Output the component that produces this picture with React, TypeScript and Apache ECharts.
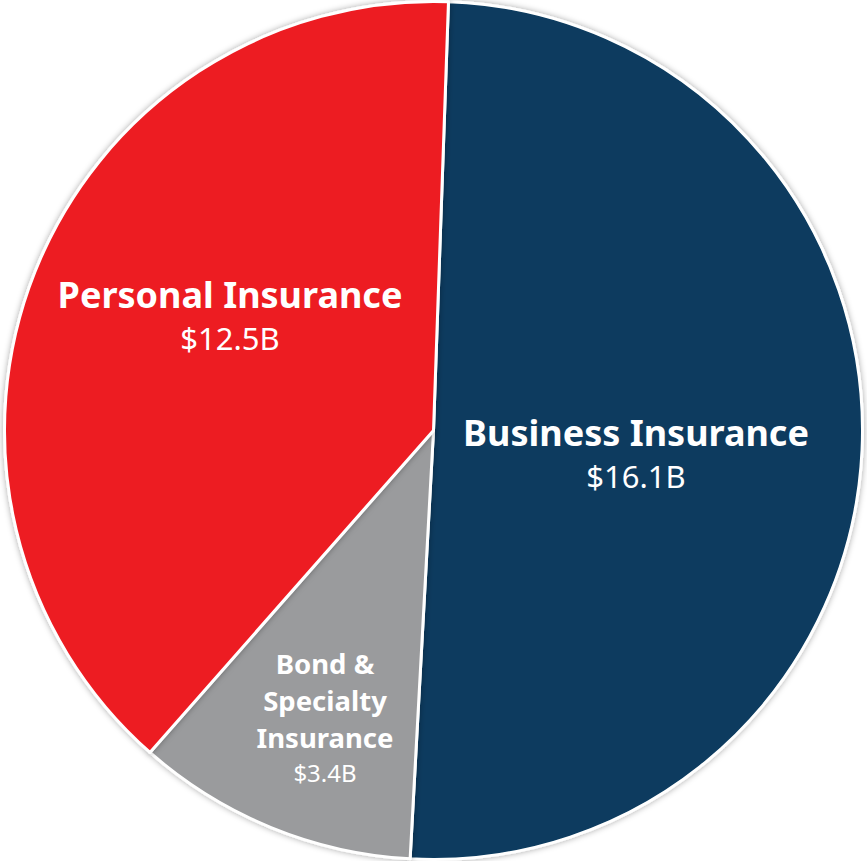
import React, { useEffect, useRef } from "react";
import * as echarts from "echarts";

const categories = ["Business Insurance", "Bond &\nSpecialty\nInsurance", "Personal Insurance"];
const values = [16.1, 3.4, 12.5];
const valueLabels = ["$16.1B", "$3.4B", "$12.5B"];

const colors = ["#083A5E", "#9A9B9D", "#ED1C24"];
// label anchor positions (layout only)
const labelPos = [
  { x: 636, y: 454 },
  { x: 325, y: 717 },
  { x: 230, y: 316 },
];

export default function App() {
  const ref = useRef<HTMLDivElement>(null);
  useEffect(() => {
    const chart = echarts.init(ref.current!, null, { renderer: "svg" });
    const font = "'Noto Sans', 'DejaVu Sans', sans-serif";
    chart.setOption({
      animation: false,
      series: [
        {
          type: "pie",
          center: ["50%", "50%"],
          radius: [0, 429],
          startAngle: 88,
          clockwise: true,
          data: categories.map((name, i) => ({
            name,
            value: values[i],
            itemStyle: {
              color: colors[i],
              borderColor: "#ffffff",
              borderWidth: 3,
              shadowBlur: 6,
              shadowColor: "rgba(0,0,0,0.35)",
            },
            label: {
              show: true,
              position: "inside",
              formatter: () =>
                i === 1
                  ? `{ns|${name}}\n{vs|${valueLabels[i]}}`
                  : `{n|${name}}\n{v|${valueLabels[i]}}`,
              rich: {
                n: { fontFamily: font, fontWeight: "bold", fontSize: 36, color: "#fff", lineHeight: 44, align: "center" },
                v: { fontFamily: font, fontSize: 31, color: "#fff", lineHeight: 44, align: "center" },
                ns: { fontFamily: font, fontWeight: "bold", fontSize: 27.5, color: "#fff", lineHeight: 37, align: "center" },
                vs: { fontFamily: font, fontSize: 24, color: "#fff", lineHeight: 34, align: "center" },
              },
            },
          })),
          labelLine: { show: false },
          labelLayout: (p: any) => ({
            x: labelPos[p.dataIndex].x,
            y: labelPos[p.dataIndex].y,
            align: "center",
            verticalAlign: "middle",
          }),
        },
      ],
    });
    return () => chart.dispose();
  }, []);
  return (
    <div
      ref={ref}
      style={{ position: "fixed", left: 0, top: 0, width: 867, height: 861, background: "#fff" }}
    />
  );
}
